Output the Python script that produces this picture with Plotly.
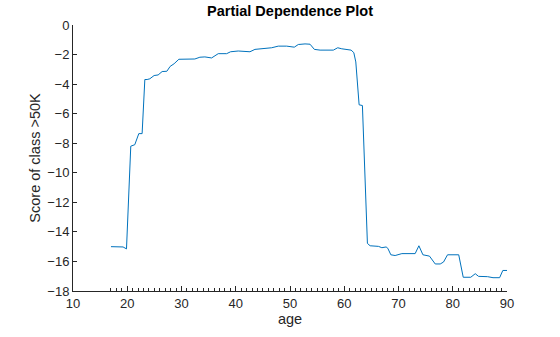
import plotly.graph_objects as go

# Partial dependence of the ">50K" class score on age
age = [17.0, 19.23, 19.86, 20.65, 21.39, 22.13, 22.74, 23.24, 23.66, 24.16,
       24.95, 25.69, 26.43, 27.30, 27.91, 28.64, 29.51, 30.62, 32.46, 33.39,
       34.31, 35.55, 36.77, 38.32, 39.05, 40.46, 41.69, 42.62, 43.54, 44.46,
       45.39, 46.62, 47.84, 49.39, 50.79, 51.53, 52.77, 53.69, 54.49, 55.54,
       57.99, 58.80, 59.54, 60.47, 61.26, 61.76, 62.13, 62.74, 63.35, 64.27,
       64.77, 66.30, 66.93, 67.72, 68.03, 68.59, 69.38, 70.62, 73.07, 73.76,
       74.50, 75.71, 76.77, 77.69, 78.30, 79.04, 81.10, 81.93, 83.32, 84.15,
       84.76, 86.42, 87.42, 88.64, 89.23, 90.0]
score = [-15.0, -15.02, -15.15, -8.2, -8.1, -7.35, -7.35, -3.69, -3.69, -3.64,
         -3.42, -3.38, -3.15, -3.13, -2.8, -2.62, -2.32, -2.3, -2.3, -2.18,
         -2.16, -2.23, -1.94, -1.94, -1.81, -1.76, -1.76, -1.81, -1.65, -1.61,
         -1.57, -1.54, -1.43, -1.43, -1.5, -1.32, -1.28, -1.3, -1.65, -1.7,
         -1.7, -1.54, -1.61, -1.65, -1.7, -1.87, -2.5, -5.4, -5.45, -14.78,
         -14.94, -14.98, -15.07, -15.02, -15.11, -15.55, -15.6, -15.47, -15.47, -14.94,
         -15.55, -15.64, -16.17, -16.17, -16.04, -15.55, -15.55, -17.07, -17.07, -16.83,
         -17.01, -17.03, -17.1, -17.1, -16.61, -16.61]

# observed ages shown as minor ticks along the x axis
observed_ages = list(range(17, 90))
x_ticks = list(range(10, 91, 10))
y_ticks = list(range(-18, 1, 2))

axis_color = "#262626"
font = "Liberation Sans, Arial, Helvetica, sans-serif"

fig = go.Figure(go.Scatter(x=age, y=score, mode="lines",
                           line=dict(color="#0072BD", width=1)))

fig.update_layout(
    width=560, height=337,
    margin=dict(l=73, r=53, t=25, b=38),
    paper_bgcolor="white", plot_bgcolor="white",
    showlegend=False,
    font=dict(family=font, size=13, color=axis_color),
    title=dict(text="<b>Partial Dependence Plot</b>", x=0.5, xanchor="center",
               xref="paper", y=1, yref="container", yanchor="top", pad=dict(t=6),
               font=dict(size=14.5, color="black")),
)

fig.update_xaxes(
    range=[10, 90], tickvals=x_ticks, showgrid=False, zeroline=False,
    showline=True, linecolor=axis_color, linewidth=1,
    ticks="inside", ticklen=5, tickcolor=axis_color, tickwidth=1,
    minor=dict(tickmode="array", tickvals=observed_ages, ticks="inside",
               ticklen=3, tickcolor=axis_color, tickwidth=1),
    tickfont=dict(size=13, color=axis_color),
    title=dict(text="age", standoff=4, font=dict(size=14.5, color=axis_color)),
)
fig.update_yaxes(
    range=[-18, 0], tickvals=y_ticks, showgrid=False, zeroline=False,
    showline=True, linecolor=axis_color, linewidth=1,
    ticks="inside", ticklen=4, tickcolor=axis_color, tickwidth=1,
    tickfont=dict(size=13, color=axis_color),
    title=dict(text="Score of class >50K", standoff=3,
               font=dict(size=14.5, color=axis_color)),
)

fig.write_html("out.html")
